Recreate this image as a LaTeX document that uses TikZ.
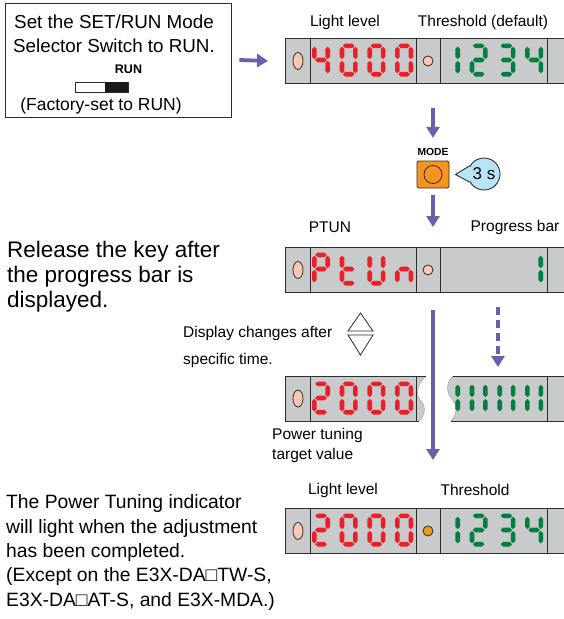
\documentclass[tikz,border=0pt]{standalone}
\usepackage{fontspec}
\setmainfont{Liberation Sans}
\usetikzlibrary{arrows.meta,positioning,calc}

\definecolor{flowblue}{RGB}{104,96,172}
\definecolor{framegrey}{RGB}{45,45,45}
\definecolor{panelgrey}{RGB}{201,202,203}
\definecolor{segred}{RGB}{238,30,38}
\definecolor{seggreen}{RGB}{0,128,62}
\definecolor{ledpeach}{RGB}{250,200,178}
\definecolor{ledorange}{RGB}{245,150,30}
\definecolor{keyorange}{RGB}{247,148,29}
\definecolor{bubbleblue}{RGB}{184,228,247}

% one bar of a seven segment digit
\newcommand{\segH}[3]{\fill (#1,#3) -- ({#1+2.3},{#3-2.3}) -- ({#2-2.3},{#3-2.3}) -- (#2,#3) -- ({#2-2.3},{#3+2.3}) -- ({#1+2.3},{#3+2.3}) -- cycle;}
\newcommand{\segV}[3]{\fill (#1,#2) -- ({#1+2.3},{#2+2.3}) -- ({#1+2.3},{#3-2.3}) -- (#1,#3) -- ({#1-2.3},{#3-2.3}) -- ({#1-2.3},{#2+2.3}) -- cycle;}
\newcommand{\dsega}{\segH{3.2}{14.8}{2.3}}
\newcommand{\dsegb}{\segV{15.7}{3.2}{15.6}}
\newcommand{\dsegc}{\segV{15.7}{17.4}{29.8}}
\newcommand{\dsegd}{\segH{3.2}{14.8}{30.7}}
\newcommand{\dsege}{\segV{2.3}{17.4}{29.8}}
\newcommand{\dsegf}{\segV{2.3}{3.2}{15.6}}
\newcommand{\dsegg}{\segH{3.2}{14.8}{16.5}}
% digit at top left corner #1,#2 with the segments #3
\newcommand{\sevenseg}[3]{%
  \edef\seglist{#3}%
  \begin{scope}[shift={({#1},{#2})}]
    \foreach \sg in \seglist {\csname dseg\sg\endcsname}
  \end{scope}}

\begin{document}
\begin{tikzpicture}[x=1pt, y=-1pt,
  flow/.style={draw=flowblue, line width=3.8pt, -{Triangle[width=13pt, length=11pt]}},
  frame/.style={draw=framegrey, line width=0.9pt},
  panel/.style={rectangle, fill=panelgrey, draw=framegrey, line width=0.9pt,
    minimum width=281pt, minimum height=45pt, inner sep=0pt, anchor=north west},
  tag/.style={font=\fontsize{15.5}{18}\selectfont, inner sep=0pt},
  note/.style={align=left, inner sep=0pt, anchor=west},
]
\useasboundingbox (0,0) rectangle (563,619);

% switch box
\node[draw=framegrey, line width=0.9pt, minimum width=226pt, minimum height=114pt, inner sep=0pt] (setbox) at (118,60) {};
\node[font=\fontsize{18.8}{24.4}\selectfont, align=center, inner sep=0pt] (settext) at (114,33.7)
  {Set the SET/RUN Mode\\Selector Switch to RUN.};
\node[font=\bfseries\fontsize{12.5}{14}\selectfont, inner sep=0pt] (runlabel) at (128.5,69) {RUN};
\node[draw=framegrey, fill=white, line width=0.7pt, minimum width=53pt, minimum height=10pt, inner sep=0pt] (switch) at (101.5,87) {};
\fill[black!90] (switch.north east) rectangle ([xshift=-23pt]switch.south east);
\node[font=\fontsize{17.5}{20}\selectfont, inner sep=0pt] (factory) at (101,106) {(Factory-set to RUN)};

% displays
\node[panel] (lcd1) at (285,38) {};
\node[panel] (lcd2) at (285,247) {};
\node[panel] (lcd5) at (285,508) {};
\foreach \p in {lcd1,lcd2,lcd5}
  \foreach \xd in {310,416,440,547}
    \draw[frame] (\xd,0 |- \p.north) -- (\xd,0 |- \p.south);
\foreach \p in {lcd1,lcd2,lcd5}
  \draw[framegrey, line width=0.8pt, fill=ledpeach] (298,0 |- \p.center) ellipse [x radius=5, y radius=8.5];
\draw[framegrey, line width=0.8pt, fill=ledpeach] (428,0 |- lcd1.center) circle [radius=5];
\draw[framegrey, line width=0.8pt, fill=ledpeach] (428,0 |- lcd2.center) circle [radius=5];
\draw[framegrey, line width=0.8pt, fill=ledorange] (428,0 |- lcd5.center) circle [radius=5];

% cut displays
\fill[panelgrey] (285,376) -- (426,376) .. controls (416,385) and (416,395) .. (420,400)
  .. controls (426,406) and (426,414) .. (419,421) -- (285,421) -- cycle;
\draw[black!35, line width=0.6pt] (426,376) .. controls (416,385) and (416,395) .. (420,400)
  .. controls (426,406) and (426,414) .. (419,421);
\draw[frame] (426,376) -- (285,376) -- (285,421) -- (419,421);
\foreach \xd in {310,416}
  \draw[frame] (\xd,376) -- (\xd,421);
\draw[framegrey, line width=0.8pt, fill=ledpeach] (298,398.5) ellipse [x radius=5, y radius=8.5];
\fill[panelgrey] (453,376) -- (566,376) -- (566,421) -- (451,421) .. controls (457,415) and (458,406) .. (452,399)
  .. controls (446,392) and (446,383) .. (453,376) -- cycle;
\draw[black!35, line width=0.6pt] (451,421) .. controls (457,415) and (458,406) .. (452,399)
  .. controls (446,392) and (446,383) .. (453,376);
\draw[frame] (453,376) -- (566,376);
\draw[frame] (451,421) -- (566,421);
\draw[frame] (547,376) -- (547,421);

% digits
\begin{scope}[fill=segred]
\foreach \segs [count=\i from 0] in {{b,c,f,g},{a,b,c,d,e,f},{a,b,c,d,e,f},{a,b,c,d,e,f}}
  {\sevenseg{312+27.7*\i}{43.5}{\segs}}
\foreach \segs [count=\i from 0] in {{a,b,e,f,g},{d,e,f,g},{b,c,d,e,f},{c,e,g}}
  {\sevenseg{312+27.7*\i}{252.5}{\segs}}
\foreach \segs [count=\i from 0] in {{a,b,d,e,g},{a,b,c,d,e,f},{a,b,c,d,e,f},{a,b,c,d,e,f}}
  {\sevenseg{312+27.7*\i}{381.5}{\segs}}
\foreach \segs [count=\i from 0] in {{a,b,d,e,g},{a,b,c,d,e,f},{a,b,c,d,e,f},{a,b,c,d,e,f}}
  {\sevenseg{312+27.7*\i}{513.5}{\segs}}
\end{scope}
\begin{scope}[fill=seggreen]
\foreach \segs [count=\i from 0] in {{b,c},{a,b,d,e,g},{a,b,c,d,g},{b,c,f,g}}
  {\sevenseg{442+27.7*\i}{43.5}{\segs}
   \sevenseg{442+27.7*\i}{513.5}{\segs}}
\sevenseg{525}{252.5}{b,c}
\foreach \segs [count=\i from 0] in {{b,c},{b,c,e,f},{b,c,e,f},{b,c,e,f}}
  {\sevenseg{442+27.7*\i}{381.5}{\segs}}
\end{scope}

% labels over the displays
\node[tag] (lightlevel) at (345,22) {Light level};
\node[tag] (default) at (483,22) {Threshold (default)};
\node[tag] (ptun) at (330,227) {PTUN};
\node[tag] (progress) at (515,227) {Progress bar};
\node[tag] (lightlevel2) at (343,490) {Light level};
\node[tag] (threshold) at (475,490) {Threshold};

% MODE key
\node[draw=framegrey, fill=keyorange, line width=0.9pt, rounded corners=1.5pt, minimum width=32pt, minimum height=27pt, inner sep=0pt] (key) at (433,174.5) {};
\draw[framegrey, line width=0.8pt] (key.center) circle [radius=9];
\node[font=\bfseries\fontsize{10.3}{12}\selectfont, inner sep=0pt, above=5pt of key] (modelabel) {MODE};
\node[circle, draw=framegrey, fill=bubbleblue, line width=0.9pt, minimum size=32pt, inner sep=0pt,
  font=\fontsize{17}{20}\selectfont] (bubble) at (484,174) {3 s};
\coordinate (tip) at ([xshift=6pt]key.east);
\fill[bubbleblue] (bubble.150) -- (tip) -- (bubble.210) -- ([xshift=3pt]bubble.west) -- cycle;
\draw[framegrey, line width=0.9pt, line join=round] (bubble.150) -- (tip) -- (bubble.210);

% arrows
\draw[flow] ([xshift=8pt]setbox.east) -- ([xshift=-17pt]lcd1.west);
\draw[flow] ([yshift=-24pt]lcd1.south -| key.north) -- ([yshift=10pt]modelabel.north);
\draw[flow] ([yshift=-7pt]key.south) -- ([yshift=20pt]lcd2.north -| key.south);
\draw[flow] ([yshift=-17pt]lcd2.south -| key.south) -- ([yshift=48pt]lcd5.north -| key.south);
\coordinate (barstart) at (498,307);
\coordinate (barend) at (498,367);
\draw[flow, dash pattern=on 8pt off 5pt] (barstart) -- (barend);

% up / down marks
\draw[framegrey, line width=0.8pt] (348,331) -- (360.5,313) -- (373,331) -- cycle;
\draw[framegrey, line width=0.8pt] (348,335) -- (373,335) -- (360.5,355) -- cycle;

% texts
\node[note, font=\fontsize{22.5}{25}\selectfont] (release) at (7,277)
  {Release the key after\\the progress bar is\\displayed.};
\node[note, font=\fontsize{15.5}{27}\selectfont] (changes) at (183,346.5)
  {Display changes after\\specific time.};
\node[note, font=\fontsize{15.5}{20}\selectfont] (target) at (272,445)
  {Power tuning\\target value};
\node[note, font=\fontsize{19.3}{24.3}\selectfont] (complete) at (6,552.5)
  {The Power Tuning indicator\\will light when the adjustment\\has been completed.\\(Except on the E3X-DA□TW-S,\\E3X-DA□AT-S, and E3X-MDA.)};
\end{tikzpicture}
\end{document}
